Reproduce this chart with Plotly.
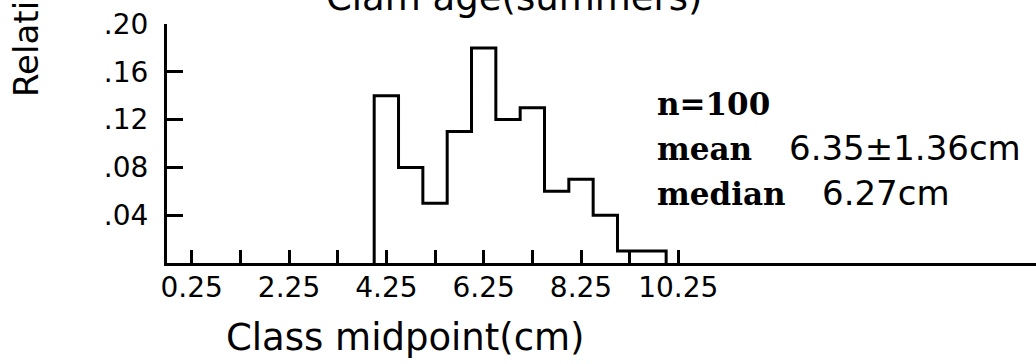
import plotly.graph_objects as go

# ---- data ----
class_mid = [4.25, 4.75, 5.25, 5.75, 6.25, 6.75, 7.25, 7.75, 8.25, 8.75, 9.25, 9.75]
rel_freq = [0.14, 0.08, 0.05, 0.11, 0.18, 0.12, 0.13, 0.06, 0.07, 0.04, 0.01, 0.01]
class_width = 0.5

x_tick_vals = [0.25, 1.25, 2.25, 3.25, 4.25, 5.25, 6.25, 7.25, 8.25, 9.25, 10.25]
x_tick_text = ["0.25", "", "2.25", "", "4.25", "", "6.25", "", "8.25", "", "10.25"]
y_tick_vals = [0.04, 0.08, 0.12, 0.16, 0.20]
y_tick_text = [".04", ".08", ".12", ".16", ".20"]

title_text = "Clam age(summers)"
x_title = "Class midpoint(cm)"
y_title = "Relative frequency"
stat_labels = ["n=100", "mean", "median"]
stat_values = ["", "6.35\u00b11.36cm", "6.27cm"]

# ---- layout geometry ----
W, H = 1036, 364
ML, MR, MT, MB = 167, 0, 24, 101
PW, PH = W - ML - MR, H - MT - MB
X0, X1 = -0.258, -0.258 + PW / 48.66


def px_x(p):
    return (p - ML) / PW


def px_y(p):
    return (H - MB - p) / PH


# step outline of the histogram
edges = [m - class_width / 2 for m in class_mid]
sx = [edges[0]] + edges + [class_mid[-1] + class_width / 2]
sy = [0] + rel_freq + [0]

fig = go.Figure()
fig.add_trace(go.Scatter(
    x=sx, y=sy, mode="lines", line=dict(color="black", width=3, shape="hv"),
    hoverinfo="skip", showlegend=False,
))

SANS = "DejaVu Sans"
SERIF = "DejaVu Serif"

fig.update_layout(
    width=W, height=H,
    margin=dict(l=ML, r=MR, t=MT, b=MB, pad=0),
    paper_bgcolor="white", plot_bgcolor="white",
    showlegend=False,
    font=dict(family=SANS, color="black"),
    xaxis=dict(
        range=[X0, X1], showgrid=False, zeroline=False,
        showline=True, linecolor="black", linewidth=3,
        ticks="inside", ticklen=13, tickwidth=2.5, tickcolor="black",
        tickmode="array", tickvals=x_tick_vals, ticktext=x_tick_text,
        tickfont=dict(family=SANS, size=28, color="black"),
        ticklabelstandoff=-3,
    ),
    yaxis=dict(
        range=[0, 0.2], showgrid=False, zeroline=False,
        showline=True, linecolor="black", linewidth=3,
        ticks="inside", ticklen=16, tickwidth=3, tickcolor="black",
        tickmode="array", tickvals=y_tick_vals, ticktext=y_tick_text,
        tickfont=dict(family=SANS, size=28, color="black"),
        ticklabelstandoff=10,
    ),
)

ann = []
# title (clipped at top in the reference)
ann.append(dict(text=title_text, xref="paper", yref="paper",
                x=px_x(514), y=px_y(10 + 0.236 * 37 + 2),
                xanchor="center", yanchor="bottom", showarrow=False,
                font=dict(family=SANS, size=37, color="black")))
# x axis title
ann.append(dict(text=x_title, xref="paper", yref="paper",
                x=px_x(224), y=px_y(350 + 0.236 * 37 + 2),
                xanchor="left", yanchor="bottom", showarrow=False,
                font=dict(family=SANS, size=37, color="black")))
# y axis title (rotated, running off the top)
ann.append(dict(text=y_title, xref="paper", yref="paper", textangle=-90,
                x=px_x(26), y=px_y(99),
                xanchor="center", yanchor="bottom", showarrow=False,
                font=dict(family=SANS, size=34, color="black")))

# stats block
baselines = [115, 160, 205]
value_left = [None, 790, 823]
for lab, val, base, vx in zip(stat_labels, stat_values, baselines, value_left):
    ann.append(dict(text=lab, xref="paper", yref="paper",
                    x=px_x(655), y=px_y(base + 0.236 * 31 + 2),
                    xanchor="left", yanchor="bottom", showarrow=False,
                    font=dict(family=SERIF, size=31, color="black", weight="bold")))
    if val:
        ann.append(dict(text=val, xref="paper", yref="paper",
                        x=px_x(vx - 3), y=px_y(base + 0.236 * 34 + 2),
                        xanchor="left", yanchor="bottom", showarrow=False,
                        font=dict(family=SANS, size=34, color="black")))

fig.update_layout(annotations=ann)
fig.write_html(
    "out.html",
    config={"displayModeBar": False},
    post_script="document.body.style.margin='0';document.body.style.overflow='hidden';",
)
